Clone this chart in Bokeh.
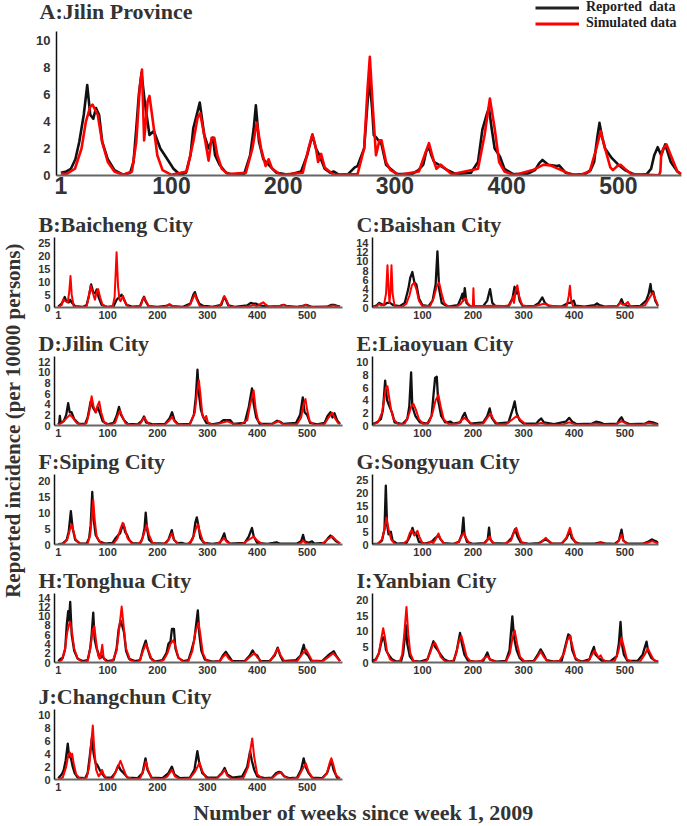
import math
from bokeh.plotting import figure
from bokeh.models import Range1d, FixedTicker, Label, Legend, LegendItem
from bokeh.layouts import column, row
from bokeh.embed import file_html
from bokeh.resources import INLINE

# ---------------- data (week, incidence per 10000) ----------------
WEEK_TICKS = [1, 100, 200, 300, 400, 500]
LEGEND_LABELS = ["Reported  data", "Simulated data"]
TITLES = ["A:Jilin Province", "B:Baicheng City", "C:Baishan City", "D:Jilin City",
          "E:Liaoyuan City", "F:Siping City", "G:Songyuan City", "H:Tonghua City",
          "I:Yanbian City", "J:Changchun City"]
Y_LABEL = "Reported incidence (per 10000 persons)"
X_LABEL = "Number of weeks since week 1, 2009"

A_TICKS = [0, 2, 4, 6, 8, 10]
B_TICKS = [0, 5, 10, 15, 20, 25]
C_TICKS = [0, 2, 4, 6, 8, 10, 12, 14]
D_TICKS = [0, 2, 4, 6, 8, 10, 12]
E_TICKS = [0, 2, 4, 6, 8, 10]
F_TICKS = [0, 5, 10, 15, 20]
G_TICKS = [0, 5, 10, 15, 20, 25]
H_TICKS = [0, 2, 4, 6, 8, 10, 12, 14]
I_TICKS = [0, 5, 10, 15, 20]
J_TICKS = [0, 2, 4, 6, 8, 10]

A_REPORTED = [(1,0.2),(6,0.3),(10,0.5),(14,1.2),(17.5,2.5),(21.5,4.5),(24.6,6.7),(27.3,4.5),(30,4.2),(32.4,5.0),(35.2,4.5),(38,2.5),(43,1.2),(49,0.4),(57,0.05),
 (63,0.2),(66,1.0),(68.5,3.5),(70.8,6.0),(73.2,7.6),(76,5.5),(80.3,3.0),(84.2,3.3),(90,2.0),(94,1.5),(101.8,0.5),(107.7,0.05),
 (113,0.2),(117,1.5),(119.5,3.5),(122.6,4.5),(125.3,5.4),(129.3,3.0),(133.2,2.0),(137.1,2.8),(139,1.5),(143,0.8),(148.9,0.2),(154.8,0.05),
 (165,0.1),(170.4,1.5),(173.6,3.5),(175.5,5.2),(178.3,2.5),(182.2,1.2),(188.1,0.7),(194,0.2),(205,0.05),
 (216,0.3),(221.4,1.5),(226.1,3.0),(229.3,2.0),(232.4,1.5),(237.1,0.5),(242,0.2),(245,0.3),(250,0.05),
 (258,0.1),(264,0.6),(266.5,0.7),(272.4,2.0),(275.1,5.0),(277.1,7.2),(279.5,5.0),(281,3.0),(283.4,2.8),(288,2.3),(292,0.8),(296,0.5),(301.8,0.1),
 (315,0.1),(321,0.4),(325.3,0.8),(328,1.8),(330.4,2.1),(332.5,1.5),(335.1,1.0),(339,0.8),(347,0.4),(354.7,0.1),
 (368,0.2),(374.3,1.0),(378.2,3.4),(382,4.5),(384.1,5.0),(386.5,3.5),(389.2,2.0),(394,1.4),(397.9,0.5),(405.7,0.1),
 (418,0.1),(425.3,0.4),(429,0.9),(432,1.15),(437.1,0.8),(444.9,0.7),(446.9,0.75),(452.8,0.2),(460.6,0.05),
 (470,0.1),(475,0.4),(478.2,1.0),(481,2.8),(483,3.9),(485.5,2.8),(488,2.0),(493.9,1.3),(499.8,0.8),(505.7,0.4),(513.5,0.1),
 (520,0.05),(525.3,0.1),(529.2,0.5),(532,1.5),(535.1,2.1),(538.2,1.5),(541.8,2.3),(546.8,1.0),(552.7,0.3),(556,0.1)]
A_SIMULATED = [(1,0.15),(5.8,0.1),(13.6,0.5),(19.5,2.0),(23.4,4.0),(27.3,5.1),(29.3,5.25),(34,4.5),(37.9,2.5),(43,1.0),(48.9,0.3),(56.7,0.05),
 (64.6,0.3),(68.5,2.5),(71.6,6.5),(73.6,7.85),(75.5,2.6),(78.7,5.5),(80.3,5.9),(83.4,4.0),(87.3,1.5),(92,0.4),(99.9,0.05),
 (113.6,0.3),(119.5,2.5),(123.4,4.3),(125.7,4.6),(129.3,3.0),(133.2,1.1),(135.9,2.8),(138.3,2.8),(141,1.5),(145,0.5),(150.8,0.1),
 (166.5,0.2),(172.4,2.0),(176.3,3.9),(180.2,2.0),(184.2,0.7),(186.9,1.2),(190,0.5),(197.9,0.05),
 (217.5,0.2),(222.6,2.0),(226.1,3.05),(229.3,2.0),(231.2,1.0),(233.9,1.6),(237.1,0.6),(245,0.05),
 (266.5,0.1),(272.4,2.0),(275.5,6.5),(277.5,8.8),(280.2,5.0),(283,1.5),(286.1,2.6),(288,2.6),(292,1.0),(296,0.4),(303.8,0.05),
 (321.4,0.3),(326.5,1.5),(330.4,2.4),(334.3,1.2),(337.1,0.5),(341,0.8),(345,0.5),(350.8,0.1),
 (374.3,0.5),(380.2,3.0),(384.9,5.7),(389.2,3.5),(393.2,1.0),(397.9,0.3),(405.7,0.05),
 (409.6,0.1),(423.3,0.4),(433.1,0.8),(439,0.75),(448.8,0.4),(456.7,0.1),(464.5,0.02),
 (474.3,0.3),(480.2,2.0),(484.1,3.3),(488,2.0),(492.7,0.6),(495,0.4),(499,0.7),(501.8,0.8),(505.7,0.5),(511.6,0.1),
 (536.3,0.02),(537.5,0.3),(538.2,1.5),(540,2.0),(543,2.3),(546.8,1.5),(552.7,0.3),(556,0.1)]

B_REPORTED = [(1,0.3),(8,1.5),(12,3.0),(14,4.1),(17,2.5),(22,2.0),(25,3.0),(28,2.0),(35,0.5),(50,0.2),(58,1.0),(63,5.0),(67,9.0),(71,6.0),(75,5.5),(78,7.0),(82,4.0),(88,1.0),(100,0.2),(112,0.5),(118,3.0),(123,4.0),(128,5.0),(132,3.5),(138,1.0),(150,0.3),(165,0.5),(170,3.0),(173,4.2),(176,2.5),(182,0.5),(200,0.2),(218,0.6),(224,1.2),(230,0.5),(250,0.2),(266,1.5),(272,5.0),(275,6.0),(279,3.5),(284,1.5),(292,0.6),(300,0.5),(310,0.2),(328,1.0),(333,4.0),(337,3.0),(342,0.8),(355,0.2),(380,0.8),(387,1.8),(392,1.5),(398,1.5),(405,0.8),(420,0.3),(445,0.5),(453,1.0),(460,0.5),(480,0.2),(492,0.6),(497,1.0),(502,0.8),(510,0.2),(540,0.3),(548,1.0),(554,1.0),(560,0.6),(566,0.3)]
B_SIMULATED = [(1,0.1),(8,1.0),(11,3.2),(15,2.5),(20,2.0),(23,6.0),(25.6,12.3),(28,5.0),(32,0.5),(45,0.05),(58,0.5),(62,4.0),(66,8.5),(70,6.0),(74.5,3.0),(78,6.0),(81,7.2),(85,4.0),(90,1.0),(100,0.1),(110,0.3),(114,4.0),(118,21.5),(121,8.0),(124,3.0),(126,2.5),(131,4.5),(135,2.0),(142,0.3),(160,0.1),(167,1.0),(170,3.0),(173,4.0),(177,2.5),(183,0.4),(200,0.05),(215,0.3),(224,1.2),(232,0.3),(255,0.05),(265,1.0),(271,3.5),(275,5.2),(279,3.0),(285,0.5),(300,0.1),(325,0.5),(331,3.0),(334,4.5),(338,3.0),(344,0.4),(360,0.05),(385,0.5),(392,1.0),(400,0.5),(407,1.5),(412,2.0),(418,1.0),(425,0.2),(440,0.3),(453,1.0),(462,0.3),(480,0.1),(490,0.5),(497,1.0),(504,0.4),(520,0.05),(543,0.3),(552,0.8),(560,0.5),(566,0.2)]

C_REPORTED = [(1,0.1),(10,0.5),(14,1.0),(18,0.8),(24,0.5),(30,1.0),(36,1.0),(42,0.5),(55,0.3),(65,1.0),(72,4.0),(76,6.5),(80,7.7),(84,5.5),(88,5.0),(93,2.0),(100,0.5),(112,0.3),(120,1.5),(126,5.0),(129.6,12.2),(133,4.0),(138,1.0),(150,0.2),(170,0.5),(176,2.0),(179,3.0),(181,1.5),(183.6,4.2),(187,1.0),(195,0.2),(220,0.3),(228,1.5),(233.6,4.0),(238,1.0),(245,0.2),(270,0.3),(278,2.0),(282,4.5),(285,3.0),(288,4.0),(292,1.5),(298,0.3),(320,0.3),(330,1.0),(336.8,2.2),(342,1.0),(350,0.3),(375,0.2),(388,1.0),(392,1.0),(399,1.5),(402,0.4),(420,0.2),(440,0.5),(445,0.9),(450,0.5),(460,0.2),(485,0.3),(490,1.0),(493.4,1.8),(497,0.8),(505,0.3),(530,0.3),(542,1.5),(547,3.0),(550.7,5.1),(553,3.0),(556,3.5),(560,1.5),(566,0.3)]
C_SIMULATED = [(1,0.05),(10,0.3),(14,0.8),(18,0.5),(24,0.5),(28,3.0),(30.9,9.2),(33,4.0),(34.9,1.0),(37,4.0),(38.8,9.2),(41,3.0),(45,0.3),(60,0.1),(68,0.8),(74,2.5),(79,4.8),(83.6,5.4),(88,4.0),(93,1.5),(100,0.3),(115,0.3),(122,2.0),(128,4.5),(132.9,5.4),(138,3.0),(143,1.0),(150,0.3),(165,0.1),(176,0.8),(182,1.8),(185.5,2.0),(189,1.0),(195,0.2),(199.5,0.2),(200.7,4.2),(202,0.3),(220,0.3),(240,0.4),(260,0.3),(272,0.5),(277,1.5),(279.6,2.5),(281,1.0),(284,3.5),(287.5,4.8),(291,2.5),(297,0.5),(310,0.2),(325,0.4),(340,0.8),(350,0.5),(365,0.1),(385,0.3),(389,2.5),(391.4,4.7),(394,1.5),(398,0.2),(430,0.1),(445,0.3),(460,0.1),(485,0.3),(491,1.0),(496,0.6),(502,0.8),(505.9,1.2),(510,0.4),(525,0.1),(540,0.5),(548,2.0),(555.3,3.2),(560,1.8),(566,0.3)]

D_REPORTED = [(1,0.2),(3,0.5),(4.2,1.8),(6,0.5),(12,0.8),(17,2.0),(20.9,4.2),(24,2.5),(27.6,2.5),(33,1.2),(42,0.3),(55,0.3),(60,1.5),(64,3.5),(65.8,4.5),(70,3.5),(76,2.5),(80,3.5),(84,2.5),(90,0.8),(100,0.2),(112,0.5),(118,1.8),(122.8,3.5),(127,2.0),(133,1.0),(140,0.3),(160,0.2),(168,0.8),(173,1.7),(177,0.6),(190,0.2),(215,0.3),(224,1.3),(229.3,2.5),(234,1.0),(242,0.2),(265,0.3),(273,2.0),(277,5.5),(280.2,10.5),(283,6.0),(287,3.0),(292,1.5),(298,0.5),(310,0.2),(325,0.5),(332,1.0),(340,1.0),(346,1.0),(352,0.3),(375,0.5),(383,3.5),(389.5,7.0),(393,4.0),(398,1.5),(405,0.3),(430,0.3),(440,0.9),(446,0.7),(452,0.3),(478,0.5),(486,2.0),(491.3,5.3),(495,2.5),(500,2.0),(506,0.5),(520,0.2),(535,0.5),(541,1.8),(546.9,2.5),(551,1.5),(555,2.3),(560,1.0),(566,0.3)]
D_SIMULATED = [(1,0.1),(8,0.5),(16,1.2),(24.3,2.0),(30,1.5),(38,0.5),(50,0.1),(58,0.5),(63,2.5),(67.9,5.5),(72,3.5),(76.6,2.5),(80,3.8),(83.3,4.5),(87,2.5),(93,0.6),(105,0.1),(115,0.5),(120,1.8),(124.8,2.8),(129,1.8),(136,0.4),(150,0.05),(165,0.3),(171,1.2),(174,1.5),(178,0.8),(185,0.1),(215,0.2),(224,1.0),(229.3,1.6),(234,0.8),(242,0.1),(265,0.2),(275,2.5),(279,6.0),(283,8.5),(286,6.0),(290,2.0),(294,1.2),(297.7,1.8),(301,0.6),(310,0.1),(325,0.4),(340,0.8),(350,0.4),(365,0.1),(380,1.0),(386,4.0),(392.8,6.6),(397,3.0),(402,0.8),(412,0.1),(430,0.3),(443,0.8),(452,0.2),(480,0.3),(488,1.5),(493,4.0),(496.7,5.0),(500,3.0),(505,0.8),(515,0.1),(535,0.3),(543,1.5),(550.3,2.4),(555,1.5),(562,0.5),(566,0.3)]

E_REPORTED = [(1,0.2),(10,0.5),(17.8,1.0),(22,2.5),(26.3,7.1),(30,4.0),(35,3.0),(40,2.0),(45,0.5),(60,0.2),(70,1.0),(74,3.0),(77.6,8.4),(80,3.0),(86,1.5),(95,0.5),(110,0.3),(118,1.5),(122,5.0),(125,7.5),(128.3,7.7),(131,4.0),(137,1.5),(145,0.5),(155.9,0.6),(160,0.3),(175,0.5),(180,1.5),(183.6,2.0),(188,1.0),(195,0.3),(220,0.5),(228,1.5),(232.9,2.7),(237,1.2),(245,0.3),(270,0.5),(278,2.5),(282.2,3.8),(286,2.0),(292,0.8),(300,0.3),(325,0.3),(330,0.8),(334.9,1.1),(340,0.5),(360,0.2),(383,0.6),(390.1,1.2),(396,0.6),(405,0.2),(435,0.3),(442.8,0.6),(450,0.5),(460,0.2),(485,0.3),(490,1.0),(493.4,1.3),(498,0.6),(510,0.2),(540,0.3),(547.4,0.6),(555,0.5),(566,0.2)]
E_SIMULATED = [(1,0.1),(12,0.5),(20,2.0),(25,4.5),(28,6.0),(30.9,6.2),(34,4.5),(38,2.5),(43,1.0),(52,0.2),(65,0.3),(72,1.5),(78,3.0),(82.2,3.4),(87,2.5),(93,1.0),(102,0.2),(113,0.5),(120,2.0),(126,4.0),(131.6,4.8),(136,3.0),(142,1.0),(152,0.2),(170,0.3),(178,0.9),(183.6,1.2),(190,0.7),(200,0.1),(220,0.3),(228,1.2),(234.9,1.9),(240,1.0),(248,0.2),(265,0.2),(275,0.8),(286.2,1.5),(295,0.8),(305,0.1),(320,0.1),(334.9,0.4),(350,0.1),(375,0.1),(390.1,0.5),(405,0.1),(425,0.1),(442.8,0.3),(460,0.1),(480,0.1),(493.4,0.7),(505,0.2),(530,0.1),(547.4,0.4),(560,0.2),(566,0.1)]

F_REPORTED = [(1,0.1),(10,0.3),(18,1.5),(22,4.0),(26.3,10.5),(30,5.0),(35,1.5),(45,0.3),(58,0.3),(63,2.0),(66,6.0),(69.2,16.5),(72,8.0),(76,3.0),(83,1.0),(95,0.3),(110,0.5),(116,2.0),(121.5,3.0),(125,3.5),(128,5.0),(131.5,6.5),(135,4.0),(139,3.0),(143,1.5),(150,0.4),(165,0.3),(170,2.0),(174,5.0),(176.4,10.0),(179,5.0),(183,1.5),(190,0.4),(215,0.3),(222,1.5),(228.7,4.5),(233,1.5),(240,0.4),(248.8,0.5),(255,0.2),(265,0.3),(272,2.5),(276,7.0),(278.9,8.5),(282,6.0),(286,2.0),(293,0.5),(310,0.2),(325,0.5),(330,2.0),(333.8,3.5),(337,1.5),(345,0.3),(375,0.5),(383,2.5),(389.5,5.2),(393,2.5),(400,0.5),(420,0.2),(432,0.5),(438.4,0.7),(445,0.3),(480,0.3),(488,1.0),(492,3.0),(495,1.0),(503,0.5),(510,1.0),(514,0.3),(535,0.5),(542,2.0),(546.9,2.8),(552,2.0),(558,1.0),(566,0.3)]
F_SIMULATED = [(1,0.05),(12,0.3),(19,1.5),(24,4.5),(27.7,6.3),(31,4.5),(36,1.5),(45,0.2),(60,0.3),(65,3.0),(68,8.0),(71.2,14.0),(74,8.0),(78,2.5),(86,0.5),(100,0.05),(112,0.3),(120,2.0),(126,5.0),(130.2,6.8),(134,5.5),(140,2.0),(148,0.4),(160,0.1),(168,1.0),(173,3.5),(178.4,6.3),(183,3.0),(190,0.5),(205,0.05),(218,0.5),(224,2.0),(228.7,3.5),(233,1.5),(242,0.2),(260,0.1),(270,1.5),(276,4.5),(280.9,6.3),(285,4.0),(291,1.0),(300,0.1),(318,0.1),(327,1.0),(333.8,2.0),(339,0.8),(348,0.1),(372,0.3),(383,1.5),(392.8,2.5),(400,1.2),(410,0.2),(440,0.1),(480,0.1),(488,0.5),(492,1.2),(497,0.5),(505,0.1),(530,0.2),(540,1.5),(550.3,2.6),(557,1.5),(566,0.3)]

G_REPORTED = [(1,0.1),(12,0.3),(20,1.5),(25,6.0),(27.6,23.0),(30,8.0),(33,4.0),(37.5,5.0),(41,1.5),(50,0.3),(68,0.5),(75,3.0),(80.3,6.5),(84,4.0),(88,4.0),(93,1.0),(105,0.3),(117.8,1.0),(125,2.5),(131.6,3.5),(136,2.0),(142,0.5),(160,0.2),(172,1.0),(178,4.0),(180.9,10.5),(183,4.0),(188,1.0),(200,0.2),(222,0.5),(229,2.0),(231.6,6.6),(234,2.0),(240,0.5),(265,0.3),(276,2.5),(283,6.0),(288,3.0),(294,0.8),(310,0.2),(330,0.5),(338,1.5),(343.4,2.0),(348,1.5),(355,0.3),(375,0.3),(385,2.5),(391.4,5.5),(395,2.5),(402,1.0),(410,0.3),(440,0.3),(452,0.8),(460,0.4),(480,0.2),(488,1.5),(493.4,5.8),(497,1.5),(505,0.3),(535,0.3),(545,1.0),(553.9,2.0),(558,1.5),(562,1.2),(566,0.5)]
G_SIMULATED = [(1,0.05),(12,0.3),(20,2.0),(25,6.0),(28.9,10.5),(33,6.0),(38,2.0),(45,0.3),(60,0.1),(70,1.5),(75,4.5),(78.9,5.5),(84,3.5),(87,4.5),(90.1,5.3),(94,3.0),(100,0.5),(110,0.3),(117.8,1.3),(121,0.5),(126,2.0),(131.6,4.3),(136,2.0),(143,0.3),(160,0.05),(172,1.0),(178,3.5),(182.2,4.5),(186,2.5),(193,0.4),(210,0.05),(224,0.6),(229,2.0),(232.9,3.2),(236,1.5),(242,0.3),(260,0.1),(275,1.5),(281,5.0),(285.5,6.5),(290,3.5),(296,0.8),(310,0.1),(330,0.3),(338,1.5),(343.4,2.6),(349,1.5),(357,0.3),(375,0.3),(384,2.5),(391.4,6.5),(396,3.0),(403,0.6),(415,0.1),(440,0.2),(452,0.6),(464,0.2),(483,0.3),(489,2.0),(493.4,3.8),(497,1.5),(505,0.2),(530,0.1),(545,0.7),(553.9,1.3),(560,0.8),(566,0.3)]

H_REPORTED = [(1,0.3),(6,0.8),(10,1.0),(15,3.0),(18,8.0),(20.9,11.0),(22.5,9.0),(25,13.0),(28,6.0),(33,2.5),(40,0.8),(50,0.3),(60,0.5),(65,3.0),(68,6.0),(71.2,10.7),(74,5.0),(78,3.0),(83,1.5),(86,1.0),(89.3,1.5),(93,0.8),(100,0.3),(112,0.5),(118,3.0),(122,7.0),(126,9.0),(129,8.0),(132.8,6.5),(137,2.5),(143,0.8),(155,0.3),(165,0.5),(171,3.0),(176.4,4.7),(180,3.0),(186,1.0),(195,0.2),(210,0.5),(218,2.0),(222,4.0),(226,4.5),(229,7.2),(233,7.2),(236,3.0),(242,1.0),(252,0.3),(262,0.5),(268,2.5),(274,5.0),(280.9,11.2),(284,6.0),(288,2.5),(295,0.6),(310,0.2),(325,0.3),(331,1.5),(337.2,2.3),(342,1.5),(350,0.3),(375,0.3),(385,1.5),(390.8,2.6),(395,1.8),(400,1.5),(406,0.3),(425,0.3),(435,1.5),(441,3.2),(446,1.5),(452,0.3),(478,0.5),(487,1.5),(493.3,3.8),(497,2.0),(502,1.5),(508,0.4),(530,0.3),(542,1.5),(548,2.0),(553.6,2.4),(558,1.5),(566,0.3)]
H_SIMULATED = [(1,0.1),(8,0.5),(14,2.5),(19,6.5),(24.3,8.8),(28,7.0),(33,3.0),(40,0.8),(50,0.1),(60,0.3),(66,3.5),(70,7.0),(73.2,7.8),(77,4.5),(81,1.5),(84,0.8),(86,1.5),(89.3,3.8),(92,1.0),(98,0.1),(110,0.3),(118,2.5),(123,7.0),(128.2,12.0),(132,8.0),(137,3.0),(145,0.5),(158,0.05),(165,0.5),(171,2.5),(177.1,4.0),(182,2.5),(189,0.5),(200,0.05),(212,0.5),(220,2.0),(226,4.0),(232,4.8),(236,3.5),(242,1.0),(252,0.1),(262,0.3),(270,2.5),(276,6.5),(282.2,8.5),(286,6.0),(291,2.0),(298,0.4),(310,0.05),(325,0.3),(331,1.2),(337.2,1.8),(343,0.8),(352,0.1),(375,0.2),(385,1.2),(394.1,2.0),(401,1.0),(410,0.1),(425,0.2),(435,1.8),(441.7,3.0),(447,1.5),(455,0.2),(480,0.3),(490,1.8),(498,2.8),(503,1.8),(510,0.4),(530,0.2),(543,1.2),(552.3,2.0),(558,1.3),(566,0.3)]

I_REPORTED = [(1,0.5),(8,1.0),(14,3.0),(18,6.0),(22,8.0),(24.3,8.0),(28,4.0),(33,2.5),(40,1.0),(48,0.3),(58,0.5),(62,3.0),(65,8.0),(67.1,12.0),(70,6.0),(75,2.0),(82,0.5),(95,0.3),(110,1.0),(116,4.0),(121.7,6.8),(125,5.0),(130,4.0),(136,2.5),(143,1.0),(152,0.3),(162,0.5),(168,4.0),(174.3,9.5),(178,6.0),(183,2.5),(190,0.6),(205,0.2),(220,0.5),(228.3,3.2),(233,1.0),(245,0.3),(265,0.5),(272,4.0),(277.6,14.8),(281,8.0),(286,4.0),(292,1.5),(300,0.3),(320,0.5),(328,2.5),(333.5,4.2),(338,3.0),(345,0.8),(360,0.3),(375,0.5),(382,5.0),(388.2,9.0),(392,8.5),(396,4.0),(403,1.0),(415,0.3),(430,1.0),(435,3.5),(438.8,5.0),(442,2.5),(448,1.5),(455,0.5),(470,0.3),(484,2.0),(488,6.0),(491.4,13.0),(494,6.0),(498,2.5),(505,0.5),(525,0.5),(535,2.5),(542.8,6.7),(546,3.5),(552,1.5),(560,0.5),(566,0.3)]
I_SIMULATED = [(1,0.2),(8,0.8),(14,3.0),(18,7.0),(22.4,11.0),(26,8.0),(30,3.5),(36,1.0),(45,0.2),(55,0.3),(60,2.5),(64,9.0),(68.4,17.8),(72,9.0),(76,3.0),(82,0.6),(95,0.1),(108,0.5),(115,3.0),(120,5.5),(125,6.3),(130,4.5),(136,1.8),(145,0.3),(160,0.3),(167,3.0),(172,7.0),(177,8.5),(181,6.0),(187,2.0),(195,0.3),(215,0.3),(223,1.5),(228.3,2.0),(234,1.0),(245,0.2),(265,0.3),(273,3.0),(278,8.0),(282.2,10.3),(287,6.0),(293,1.8),(302,0.3),(320,0.3),(328,2.0),(333.5,3.5),(339,2.0),(347,0.4),(370,0.3),(380,3.0),(386,7.0),(391.4,8.6),(396,5.5),(402,1.5),(412,0.2),(428,0.5),(435,2.5),(440.1,3.8),(445,2.5),(448,1.5),(452,2.3),(456,1.0),(465,0.2),(480,0.5),(487,3.5),(493.4,8.0),(498,5.0),(504,1.0),(515,0.2),(530,0.3),(539,2.5),(545.4,4.5),(550,3.0),(557,0.8),(566,0.2)]

J_REPORTED = [(1,0.2),(8,0.8),(12,1.5),(16,3.0),(20.1,5.6),(23,3.5),(26,3.5),(30,2.0),(34,1.0),(40,0.3),(55,0.2),(60,1.0),(64,3.5),(68.6,6.5),(72,4.0),(76,2.5),(79.1,2.3),(84,1.5),(88,1.0),(95,0.3),(108,0.3),(115,1.0),(121.4,2.2),(126,1.5),(132,1.0),(140,0.3),(160,0.2),(170,1.0),(176,3.3),(180,1.5),(188,0.3),(210,0.2),(222,1.0),(228.9,2.0),(234,0.8),(245,0.2),(265,0.3),(274,1.5),(280,4.4),(284,2.5),(290,1.0),(300,0.3),(320,0.3),(329,1.0),(334.6,1.8),(340,0.8),(350,0.3),(370,0.5),(380,2.0),(385.7,4.4),(389,3.0),(394,1.5),(400,0.5),(415,0.2),(430,0.3),(438,1.0),(443.8,1.2),(448,1.1),(454,0.5),(465,0.2),(480,0.3),(488,1.5),(493.1,3.3),(497,2.0),(503,1.0),(510,0.3),(530,0.2),(540,1.0),(548.6,3.0),(553,1.5),(560,0.3),(566,0.2)]
J_SIMULATED = [(1,0.05),(10,0.3),(17,2.0),(21,3.8),(24.5,4.2),(27,3.5),(28.9,4.0),(32,2.5),(37,0.8),(45,0.1),(58,0.3),(63,2.0),(67,5.5),(70.3,8.4),(73,5.0),(77,1.5),(82,0.5),(85,0.8),(88.8,1.5),(92,0.8),(98,0.1),(110,0.2),(118,1.5),(125.8,2.9),(131,1.8),(138,0.4),(150,0.05),(165,0.2),(171,1.2),(176.9,2.8),(181,1.5),(188,0.2),(210,0.05),(220,0.5),(228.9,1.5),(235,0.5),(245,0.05),(265,0.2),(275,1.2),(284.4,2.6),(290,1.3),(298,0.2),(318,0.1),(328,0.8),(334.6,1.5),(340,0.6),(350,0.05),(372,0.2),(382,2.0),(386,4.5),(390,6.4),(394,3.5),(400,0.8),(410,0.1),(430,0.2),(440,0.9),(447.3,1.1),(454,0.5),(465,0.05),(482,0.3),(490,1.5),(497.5,2.5),(503,1.2),(512,0.1),(530,0.1),(540,1.0),(545,2.5),(548.6,3.3),(552,2.5),(558,0.7),(566,0.1)]

# ---------------- styling ----------------
SERIF = "Liberation Serif"
SANS = "Liberation Sans"
TXT = "#333333"
BLACK = "#111111"
RED = "#ff0000"
BASE_FIX = 7   # measured offset of Bokeh's alphabetic anchor


def xy(pairs):
    return [w for w, v in pairs], [v for w, v in pairs]


def blank(width, height):
    f = figure(width=width, height=height, x_range=Range1d(0, 1), y_range=Range1d(0, 1),
               output_backend="svg", toolbar_location=None,
               x_axis_location=None, y_axis_location=None, min_border=0)
    f.outline_line_color = None
    f.xgrid.grid_line_color = None
    f.ygrid.grid_line_color = None
    return f


def title_strip(text, width, height, x, y):
    f = blank(width, height)
    f.add_layout(Label(x=x, y=y + BASE_FIX, x_units="screen", y_units="screen", text=text,
                       text_font=SERIF, text_font_style="bold", text_font_size="22px",
                       text_color=TXT, text_baseline="alphabetic", text_align="left"))
    return f


def make_plot(reported, simulated, y_ticks, y_top, x_rng, width, height, bl, br, bb, big=False):
    p = figure(width=width, height=height, x_range=Range1d(*x_rng), y_range=Range1d(0, y_top),
               output_backend="svg", toolbar_location=None,
               min_border_left=bl, min_border_right=br, min_border_top=0, min_border_bottom=bb)
    p.outline_line_color = None
    p.xgrid.grid_line_color = None
    p.ygrid.grid_line_color = None
    p.xaxis.ticker = FixedTicker(ticks=WEEK_TICKS)
    p.yaxis.ticker = FixedTicker(ticks=y_ticks)
    for ax in (p.xaxis[0], p.yaxis[0]):
        ax.major_tick_line_color = None
        ax.minor_tick_line_color = None
        ax.major_tick_in = 0
        ax.major_tick_out = 0
        ax.minor_tick_in = 0
        ax.minor_tick_out = 0
        ax.major_label_text_font = SANS
        ax.major_label_text_font_style = "bold"
        ax.major_label_text_color = TXT
    p.yaxis.axis_line_color = "#111111"
    p.yaxis.axis_line_width = 1.5
    p.xaxis.axis_line_color = "#666666"
    p.xaxis.axis_line_width = 2
    if big:
        p.xaxis.major_label_text_font_size = "23px"
        p.yaxis.major_label_text_font_size = "13px"
        p.xaxis.major_label_standoff = 1
        p.yaxis.major_label_standoff = 6
        lw_r, lw_s = 2.6, 2.6
    else:
        p.xaxis.major_label_text_font_size = "11px"
        p.yaxis.major_label_text_font_size = "11px"
        p.xaxis.major_label_standoff = 3
        p.yaxis.major_label_standoff = 4
        lw_r, lw_s = 2.3, 2.0
    rx, ry = xy(reported)
    sx, sy = xy(simulated)
    p.line(rx, ry, line_color=BLACK, line_width=lw_r, line_join="round")
    p.line(sx, sy, line_color=RED, line_width=lw_s, line_join="round")
    return p


# ---------------- Panel A (title strip with legend + plot) ----------------
strip_a = title_strip(TITLES[0], 687, 31, 39, 13)
strip_a.x_range = Range1d(-2.9, 556.4)
strip_a.y_range = Range1d(-20, -10)   # legend keys only: the series lie outside this strip
arx, ary = xy(A_REPORTED)
asx, asy = xy(A_SIMULATED)
lr1 = strip_a.line(arx, ary, line_color="#222222", line_width=3)
lr2 = strip_a.line(asx, asy, line_color=RED, line_width=3)
legend = Legend(items=[LegendItem(label=LEGEND_LABELS[0], renderers=[lr1]),
                       LegendItem(label=LEGEND_LABELS[1], renderers=[lr2])],
                location=(535, 0), orientation="vertical", click_policy="none",
                glyph_width=44, glyph_height=15, label_height=15, spacing=0,
                label_standoff=7, padding=0, margin=0,
                label_text_font=SERIF, label_text_font_style="bold",
                label_text_font_size="14px", label_text_color="#222222",
                label_text_line_height=1.0,
                background_fill_alpha=0, border_line_color=None)
strip_a.add_layout(legend)

plot_a = make_plot(A_REPORTED, A_SIMULATED, A_TICKS, 10.67, (-2.9, 556.4),
                   687, 174, 56, 6, 30, big=True)

# ---------------- small panels ----------------
LEFT_X = (-6.5, 571)
RIGHT_X = (1.3, 566.4)
# (strip height, frame height, bottom border) per row
ROWS = [(32, 70, 17), (32, 69, 18), (31, 70, 17), (32, 69, 17), (30, 70, 18)]

specs = [
    (TITLES[1], B_REPORTED, B_SIMULATED, B_TICKS, 27.3, TITLES[2], C_REPORTED, C_SIMULATED, C_TICKS, 15.2),
    (TITLES[3], D_REPORTED, D_SIMULATED, D_TICKS, 13.0, TITLES[4], E_REPORTED, E_SIMULATED, E_TICKS, 10.9),
    (TITLES[5], F_REPORTED, F_SIMULATED, F_TICKS, 22.0, TITLES[6], G_REPORTED, G_SIMULATED, G_TICKS, 27.3),
    (TITLES[7], H_REPORTED, H_SIMULATED, H_TICKS, 14.8, TITLES[8], I_REPORTED, I_SIMULATED, I_TICKS, 22.1),
]

LW, RW = 320, 337
grid_rows = []
for (sh, fh, bb), sp in zip(ROWS[:4], specs):
    left = column(row(title_strip(sp[0], LW, sh, 8, 6)),
                  make_plot(sp[1], sp[2], sp[3], sp[4], LEFT_X, LW, fh + bb, 24, 8, bb))
    right = column(row(title_strip(sp[5], RW, sh, 6, 6)),
                   make_plot(sp[6], sp[7], sp[8], sp[9], RIGHT_X, RW, fh + bb, 22, 29, bb))
    grid_rows.append(row(left, right))
sh, fh, bb = ROWS[4]
grid_rows.append(row(column(row(title_strip(TITLES[9], LW, sh, 8, 6)),
                            make_plot(J_REPORTED, J_SIMULATED, J_TICKS, 10.9, LEFT_X, LW, fh + bb, 24, 8, bb))))

grid_h = sum(a + b + c for a, b, c in ROWS)

ylab = blank(30, grid_h)
ylab.add_layout(Label(x=19 - BASE_FIX, y=grid_h - (420 - 205), x_units="screen", y_units="screen",
                      text=Y_LABEL, angle=math.pi / 2, text_font=SERIF, text_font_style="bold",
                      text_font_size="21px", text_color=TXT, text_align="center",
                      text_baseline="alphabetic"))

xlab = blank(687, 27)
xlab.add_layout(Label(x=363, y=5 + BASE_FIX, x_units="screen", y_units="screen", text=X_LABEL,
                      text_font=SERIF, text_font_style="bold", text_font_size="22px",
                      text_color=TXT, text_align="center", text_baseline="alphabetic"))

layout = column(row(strip_a), plot_a, row(ylab, column(*grid_rows)), row(xlab))

open("out.html", "w").write(file_html(layout, INLINE))
